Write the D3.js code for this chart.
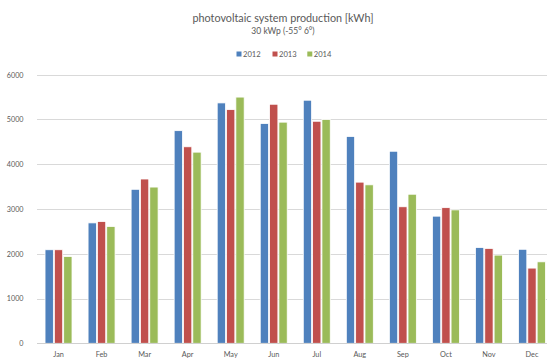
<!DOCTYPE html>
<html>
<head>
<meta charset="utf-8">
<script src="https://cdn.jsdelivr.net/npm/d3@7"></script>
<style>
  html, body { margin: 0; padding: 0; background: #fff; overflow: hidden; }
  svg { display: block; font-family: Lato, "Open Sans", sans-serif; }
</style>
</head>
<body>
<svg id="chart" width="547" height="359"></svg>
<script>
// Monthly PV production, kWh
const months = ["Jan", "Feb", "Mar", "Apr", "May", "Jun", "Jul", "Aug", "Sep", "Oct", "Nov", "Dec"];
const years = ["2012", "2013", "2014"];
const prod2012 = [2090, 2690, 3440, 4750, 5370, 4910, 5430, 4620, 4290, 2840, 2140, 2100];
const prod2013 = [2090, 2720, 3670, 4390, 5220, 5340, 4960, 3600, 3050, 3030, 2120, 1680];
const prod2014 = [1940, 2610, 3490, 4270, 5500, 4940, 5000, 3540, 3330, 2980, 1970, 1820];
const yTicks = [0, 1000, 2000, 3000, 4000, 5000, 6000];
const seriesColors = ["#4f81bd", "#c0504d", "#9bbb59"];

const series = [prod2012, prod2013, prod2014];
const svg = d3.select("#chart");

const plot = { left: 37, right: 553.5, top: 74.7, bottom: 343.3 };

const x = d3.scaleBand().domain(months).range([plot.left, plot.right]).paddingInner(0.35).paddingOuter(0.175);
const xSub = d3.scaleBand().domain(years).range([0, x.bandwidth()]);
const y = d3.scaleLinear().domain([0, 6000]).range([plot.bottom, plot.top]);

// Title
svg.append("text").attr("x", 283).attr("y", 21.5).attr("text-anchor", "middle")
  .attr("font-size", 10.8).attr("fill", "#595959").text("photovoltaic system production [kWh]");
svg.append("text").attr("x", 283).attr("y", 34).attr("text-anchor", "middle")
  .attr("font-size", 8.5).attr("fill", "#595959").text("30 kWp (-55° 6°)");

// Gridlines
svg.append("g").selectAll("line").data(yTicks.filter(d => d > 0)).join("line")
  .attr("x1", plot.left).attr("x2", 547)
  .attr("y1", d => Math.round(y(d)) + 0.5).attr("y2", d => Math.round(y(d)) + 0.5)
  .attr("stroke", "#d9d9d9").attr("stroke-width", 1);

// Y axis labels
const yAxis = d3.axisLeft(y).tickValues(yTicks).tickSize(0).tickPadding(0).tickFormat(d3.format("d"));
const gy = svg.append("g").attr("transform", "translate(23.5,0)").call(yAxis);
gy.select(".domain").remove();
gy.selectAll("text").attr("font-size", 7.2).attr("fill", "#595959").attr("font-family", "Lato, sans-serif");

// Bars
const groups = svg.append("g").selectAll("g").data(months).join("g")
  .attr("transform", d => `translate(${x(d)},0)`);
groups.selectAll("rect").data((m, i) => series.map((s, k) => ({ year: years[k], value: s[i], k })))
  .join("rect")
  .attr("x", d => xSub(d.year) + 0.5)
  .attr("width", xSub.bandwidth() - 1)
  .attr("y", d => y(d.value))
  .attr("height", d => y(0) - y(d.value))
  .attr("fill", d => seriesColors[d.k])
  .attr("stroke", "#ffffff").attr("stroke-width", 0.8);

// Baseline
svg.append("line").attr("x1", plot.left).attr("x2", 547)
  .attr("y1", Math.round(y(0)) + 0.5).attr("y2", Math.round(y(0)) + 0.5)
  .attr("stroke", "#d0d0d0").attr("stroke-width", 1);

// X axis labels
const xAxis = d3.axisBottom(x).tickSize(0).tickPadding(9);
const gx = svg.append("g").attr("transform", `translate(0,${plot.bottom})`).call(xAxis);
gx.select(".domain").remove();
gx.selectAll("text").attr("font-size", 7.3).attr("fill", "#595959").attr("font-family", "Lato, sans-serif");

// Legend
const legendX = [236.5, 272.5, 307.3];
const legend = svg.append("g").selectAll("g").data(years).join("g")
  .attr("transform", (d, i) => `translate(${legendX[i]},54)`);
legend.append("rect").attr("x", 0).attr("y", -2.5).attr("width", 5).attr("height", 5)
  .attr("fill", (d, i) => seriesColors[i]);
legend.append("text").attr("x", 6.5).attr("y", 2.6).attr("font-size", 7.6).attr("fill", "#595959").text(d => d);
</script>
</body>
</html>
